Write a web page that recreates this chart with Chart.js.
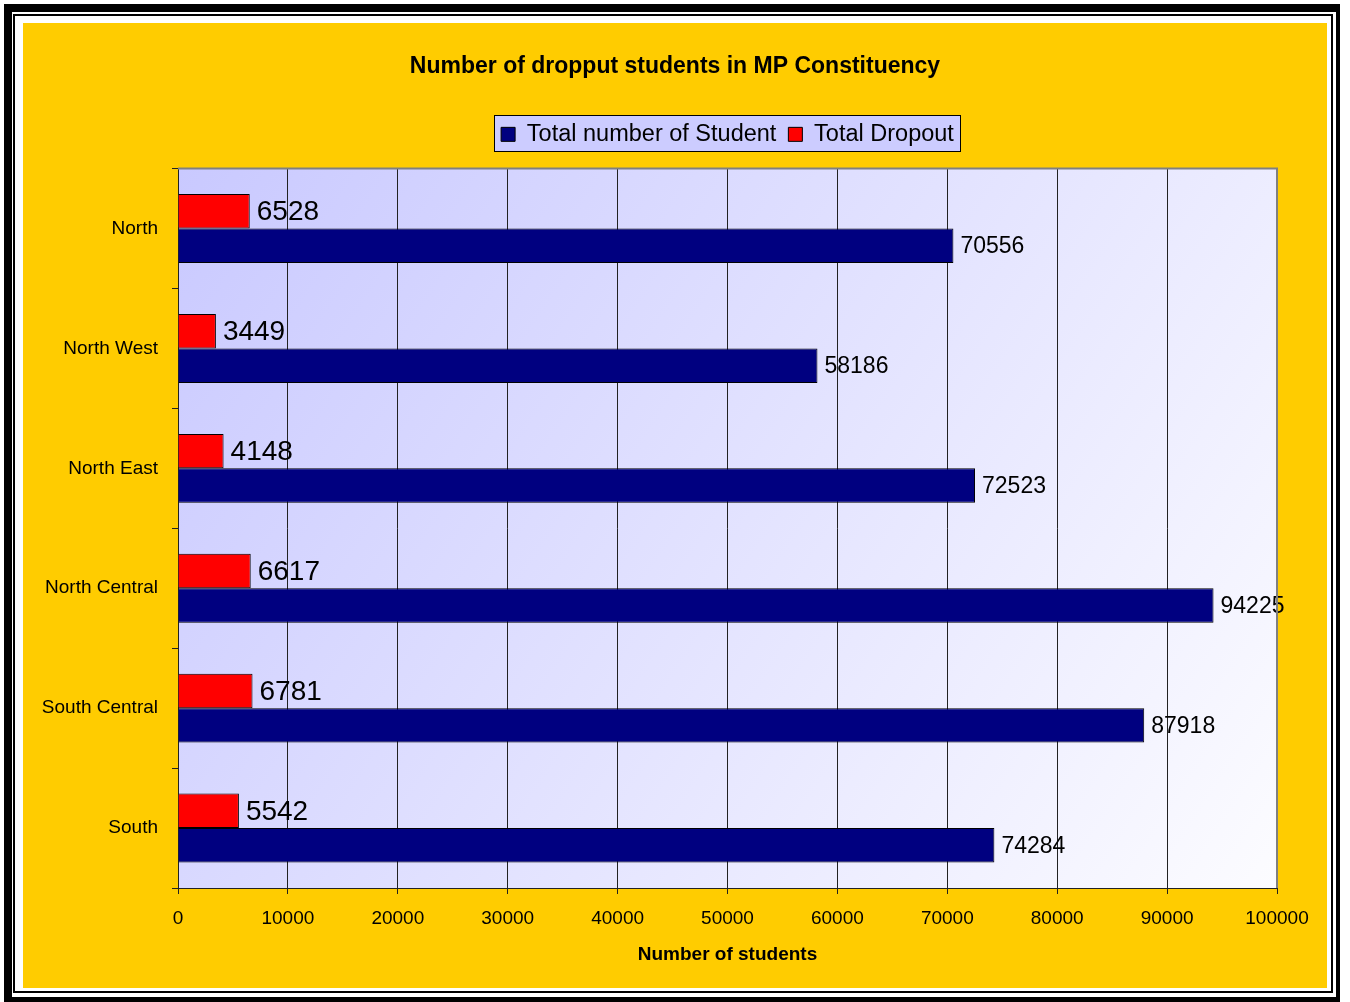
<!DOCTYPE html>
<html>
<head>
<meta charset="utf-8">
<script src="https://cdn.jsdelivr.net/npm/chart.js@4.4.1/dist/chart.umd.min.js"></script>
<style>
  html, body { margin: 0; padding: 0; background: #fff; }
  #wrap { width: 1350px; height: 1002px; position: relative; }
</style>
</head>
<body>
<div id="wrap"><canvas id="c" width="1350" height="1002"></canvas></div>
<script>
const categories = ['North', 'North West', 'North East', 'North Central', 'South Central', 'South'];
const totalStudents = [70556, 58186, 72523, 94225, 87918, 74284];
const totalDropout = [6528, 3449, 4148, 6617, 6781, 5542];
const xTicks = [0, 10000, 20000, 30000, 40000, 50000, 60000, 70000, 80000, 90000, 100000];

const FONT = "'Liberation Sans', Arial, sans-serif";

const framePlugin = {
  id: 'frame',
  beforeDraw(chart) {
    const ctx = chart.ctx;
    const W = chart.width, H = chart.height;
    ctx.save();
    ctx.fillStyle = '#ffffff';
    ctx.fillRect(0, 0, W, H);
    ctx.fillStyle = '#000000';
    ctx.fillRect(4, 4, 1336, 8);
    ctx.fillRect(4, 4, 8, 998);
    ctx.fillRect(1336, 4, 4, 998);
    ctx.fillRect(4, 997, 1336, 5);
    ctx.fillRect(13, 14, 1320, 2);
    ctx.fillRect(13, 14, 2, 979);
    ctx.fillRect(1331, 14, 2, 979);
    ctx.fillRect(13, 991, 1320, 2);
    ctx.fillStyle = '#ffcc00';
    ctx.fillRect(23, 23, 1304, 965);
    const a = chart.chartArea;
    const g = ctx.createLinearGradient(a.left, a.top, a.right, a.bottom);
    g.addColorStop(0, '#c9c9ff');
    g.addColorStop(1, '#fcfcff');
    ctx.fillStyle = g;
    ctx.fillRect(a.left, a.top, a.right - a.left, a.bottom - a.top);
    const lg = chart.legend;
    if (lg && lg.legendHitBoxes && lg.legendHitBoxes.length) {
      let l = Infinity, r = -Infinity, t = Infinity, b = -Infinity;
      lg.legendHitBoxes.forEach(h => {
        l = Math.min(l, h.left); r = Math.max(r, h.left + h.width);
        t = Math.min(t, h.top); b = Math.max(b, h.top + h.height);
      });
      const bx = Math.round(l - 7), by = Math.round((t + b) / 2 - 19), bw = Math.round((r - l) + 14), bh = 37;
      ctx.fillStyle = '#ccccff';
      ctx.fillRect(bx, by, bw, bh);
      ctx.strokeStyle = '#000';
      ctx.lineWidth = 1;
      ctx.strokeRect(bx + 0.5, by + 0.5, bw - 1, bh - 1);
    }
    ctx.restore();
  },
  afterDraw(chart) {
    const ctx = chart.ctx;
    const a = chart.chartArea;
    ctx.save();
    ctx.strokeStyle = '#808080';
    ctx.lineWidth = 2;
    ctx.beginPath();
    ctx.moveTo(a.left, a.top);
    ctx.lineTo(a.right, a.top);
    ctx.lineTo(a.right, a.bottom);
    ctx.stroke();
    ctx.restore();
  }
};

const labelPlugin = {
  id: 'valueLabels',
  afterDatasetsDraw(chart) {
    const ctx = chart.ctx;
    ctx.save();
    chart.data.datasets.forEach((ds, di) => {
      const meta = chart.getDatasetMeta(di);
      ctx.font = ds.labelSize + 'px ' + FONT;
      ctx.fillStyle = '#000';
      ctx.textAlign = 'left';
      ctx.textBaseline = 'middle';
      meta.data.forEach((bar, i) => {
        ctx.fillText(String(ds.data[i]), bar.x + 7, bar.y + 1);
      });
    });
    ctx.restore();
  }
};

new Chart(document.getElementById('c'), {
  type: 'bar',
  data: {
    labels: categories,
    datasets: [
      {
        label: 'Total Dropout',
        data: totalDropout,
        backgroundColor: '#ff0000',
        borderColor: '#000000',
        borderWidth: 1,
        labelSize: 28
      },
      {
        label: 'Total number of Student',
        data: totalStudents,
        backgroundColor: '#000080',
        borderColor: '#000000',
        borderWidth: 1,
        labelSize: 23
      }
    ]
  },
  options: {
    indexAxis: 'y',
    responsive: false,
    animation: false,
    devicePixelRatio: 1,
    layout: { padding: { left: 23, right: 23, top: 23, bottom: 14 } },
    datasets: { bar: { categoryPercentage: 0.575, barPercentage: 1.0 } },
    plugins: {
      title: {
        display: true,
        text: 'Number of dropput students in MP Constituency',
        color: '#000',
        font: { family: FONT, size: 23, weight: 'bold' },
        padding: { top: 30, bottom: 30 }
      },
      subtitle: {
        display: true,
        text: ' ',
        weight: 500,
        position: 'top',
        font: { family: FONT, size: 5 },
        padding: { top: 0, bottom: 6.5 }
      },
      legend: {
        display: true,
        position: 'top',
        fullSize: false,
        reverse: true,
        labels: {
          color: '#000',
          font: { family: FONT, size: 23.5 },
          boxWidth: 14,
          boxHeight: 14,
          padding: 12
        }
      },
      tooltip: { enabled: false }
    },
    scales: {
      x: {
        type: 'linear',
        min: 0,
        max: 100000,
        afterBuildTicks(scale) { scale.ticks = xTicks.map(v => ({ value: v })); },
        afterFit(scale) { scale.height = 100; },
        ticks: {
          color: '#000',
          font: { family: FONT, size: 19 },
          padding: 13,
          maxRotation: 0,
          autoSkip: false,
          callback: (v) => String(v)
        },
        grid: {
          color: '#222',
          lineWidth: 1,
          drawTicks: true,
          tickLength: 6
        },
        border: { color: '#222', width: 1 },
        title: {
          display: true,
          text: 'Number of students',
          color: '#000',
          font: { family: FONT, size: 19, weight: 'bold' },
          padding: { top: 10, bottom: 22 }
        }
      },
      y: {
        afterFit(scale) { scale.width = 155; },
        ticks: {
          color: '#000',
          font: { family: FONT, size: 19 },
          padding: 14
        },
        grid: {
          color: '#222',
          drawOnChartArea: false,
          drawTicks: true,
          tickLength: 6,
          offset: true
        },
        border: { color: '#222', width: 1 }
      },
      y2: {
        type: 'category',
        position: 'right',
        labels: categories,
        afterFit(scale) { scale.width = 50; },
        ticks: { display: false },
        grid: { display: false, drawTicks: false },
        border: { display: false }
      }
    }
  },
  plugins: [framePlugin, labelPlugin]
});
</script>
</body>
</html>
